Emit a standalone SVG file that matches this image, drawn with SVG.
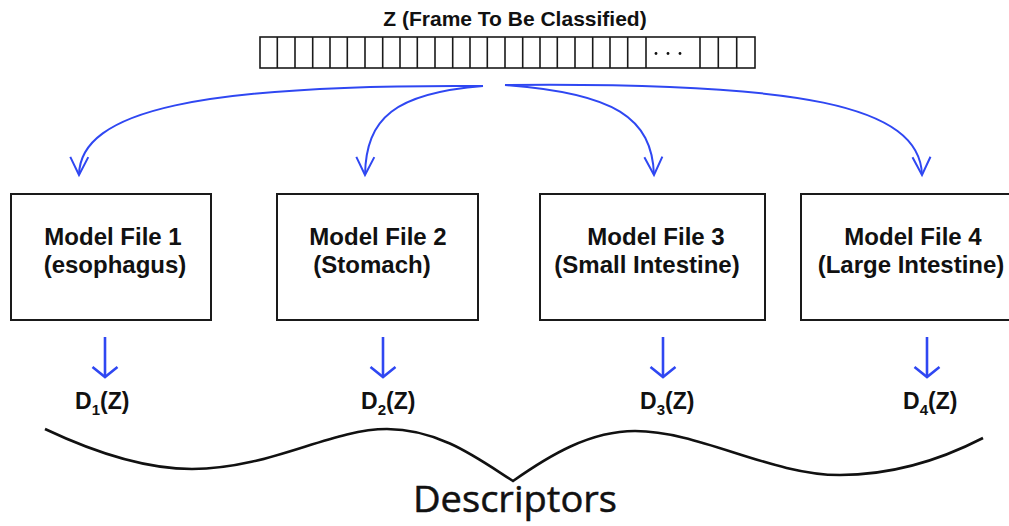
<svg xmlns="http://www.w3.org/2000/svg" width="1009" height="526" viewBox="0 0 1009 526">
  <style>
    .lbl { font-family: "Liberation Sans", Arial, sans-serif; font-weight: 700; fill: #111; }
    .title { font-size: 21px; text-anchor: middle; }
    .box { fill: #fff; stroke: #1a1a1a; stroke-width: 2; }
    .name { font-size: 24px; text-anchor: middle; }
    .desc { font-size: 23px; }
    .sub { font-size: 15px; }
    .cell { stroke: #1a1a1a; stroke-width: 1.6; fill: none; }
    .flow { fill: none; stroke: #2f47f2; stroke-width: 2; }
    .down { fill: none; stroke: #2f47f2; stroke-width: 2.6; }
    .brace { fill: none; stroke: #111; stroke-width: 2.6; stroke-linejoin: miter; }
    .big { font-family: "Open Sans", "Noto Sans", "Liberation Sans", sans-serif; font-weight: 400; font-size: 36px; fill: #111; stroke: #111; stroke-width: 0.5; }
  </style>
  <defs>
    <marker id="vhead" markerUnits="userSpaceOnUse" markerWidth="40" markerHeight="40" refX="0" refY="0" orient="auto" overflow="visible" viewBox="-20 -20 40 40">
      <path d="M-18,-9 L0,0 L-18,9" fill="none" stroke="#2f47f2" stroke-width="2" stroke-linejoin="miter"/>
    </marker>
    <marker id="shorthead" markerUnits="userSpaceOnUse" markerWidth="40" markerHeight="40" refX="0" refY="0" orient="auto" overflow="visible" viewBox="-20 -20 40 40">
      <path d="M-10,-12.5 L0,0 L-10,12.5" fill="none" stroke="#2f47f2" stroke-width="2.6" stroke-linejoin="miter"/>
    </marker>
  </defs>

  <rect width="1009" height="526" fill="#fff"/>

  <!-- input frame -->
  <g id="frame">
    <text class="lbl title" x="515" y="26">Z (Frame To Be Classified)</text>
    <rect class="cell" x="260" y="37" width="495" height="31"/>
    <path class="cell" d="M277.3,37V68 M295,37V68 M312.7,37V68 M330,37V68 M347.3,37V68 M365,37V68 M382.7,37V68 M400,37V68 M417.3,37V68 M435,37V68 M452.7,37V68 M470,37V68 M487.3,37V68 M505,37V68 M522.7,37V68 M540,37V68 M557.3,37V68 M575,37V68 M592.7,37V68 M610,37V68 M627.7,37V68 M646,37V68 M700,37V68 M718.3,37V68 M736.7,37V68"/>
    <circle cx="656" cy="53.5" r="1.4" fill="#111"/>
    <circle cx="668" cy="53.5" r="1.4" fill="#111"/>
    <circle cx="680" cy="53.5" r="1.4" fill="#111"/>
  </g>

  <!-- connectors -->
  <g id="connectors">
    <path class="flow" d="M483,86 C200,84 80,110 79,175" marker-end="url(#vhead)"/>
    <path class="flow" d="M483,86 C395,93 366,118 365,175" marker-end="url(#vhead)"/>
    <path class="flow" d="M505,85 C615,93 652,118 654,175" marker-end="url(#vhead)"/>
    <path class="flow" d="M505,85 C800,82 920,105 922,175" marker-end="url(#vhead)"/>
    <path class="down" d="M105,337 V377" marker-end="url(#shorthead)"/>
    <path class="down" d="M383,337 V377" marker-end="url(#shorthead)"/>
    <path class="down" d="M663,337 V377" marker-end="url(#shorthead)"/>
    <path class="down" d="M927,337 V377" marker-end="url(#shorthead)"/>
  </g>

  <!-- model files -->
  <g id="model1">
    <rect class="box" x="11" y="194" width="200" height="126"/>
    <text class="lbl name" x="113" y="245">Model File 1</text>
    <text class="lbl name" x="115" y="273">(esophagus)</text>
  </g>
  <g id="model2">
    <rect class="box" x="277" y="194" width="201" height="126"/>
    <text class="lbl name" x="378" y="245">Model File 2</text>
    <text class="lbl name" x="372" y="273">(Stomach)</text>
  </g>
  <g id="model3">
    <rect class="box" x="540" y="194" width="225" height="126"/>
    <text class="lbl name" x="656" y="245">Model File 3</text>
    <text class="lbl name" x="647" y="273">(Small Intestine)</text>
  </g>
  <g id="model4">
    <rect class="box" x="801" y="194" width="225" height="126"/>
    <text class="lbl name" x="913" y="245">Model File 4</text>
    <text class="lbl name" x="911" y="273">(Large Intestine)</text>
  </g>

  <!-- descriptor outputs -->
  <g id="d1"><text class="lbl desc" x="75" y="409">D<tspan class="sub" dy="6">1</tspan><tspan dy="-6">(Z)</tspan></text></g>
  <g id="d2"><text class="lbl desc" x="361" y="409">D<tspan class="sub" dy="6">2</tspan><tspan dy="-6">(Z)</tspan></text></g>
  <g id="d3"><text class="lbl desc" x="640" y="409">D<tspan class="sub" dy="6">3</tspan><tspan dy="-6">(Z)</tspan></text></g>
  <g id="d4"><text class="lbl desc" x="903" y="409">D<tspan class="sub" dy="6">4</tspan><tspan dy="-6">(Z)</tspan></text></g>

  <!-- grouping brace -->
  <g id="descriptors">
    <path class="brace" d="M45,429 C100,455 150,469 192,469 C270,469 330,429 387,429 C440,429 480,460 513,481 C550,455 590,431 635,431 C700,431 770,475 840,475 C900,475 950,455 983,438"/>
    <text class="big" x="413" y="512" textLength="204" lengthAdjust="spacingAndGlyphs">Descriptors</text>
  </g>
</svg>
